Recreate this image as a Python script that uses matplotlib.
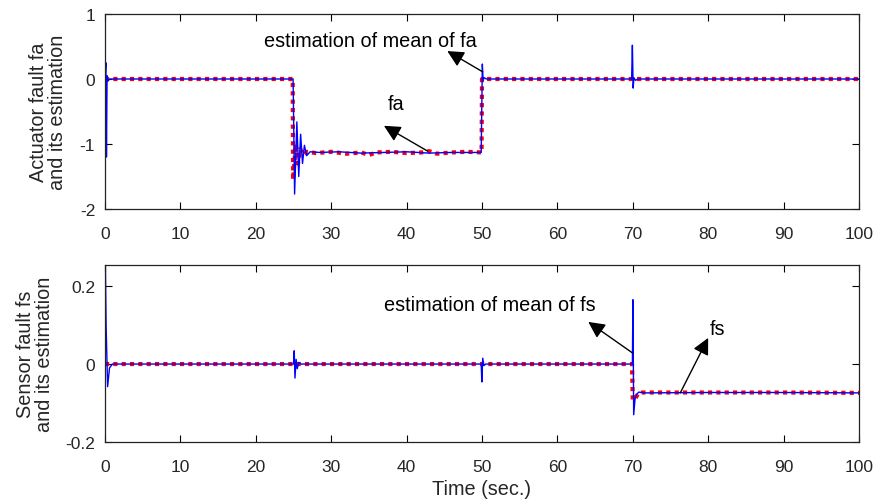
import numpy as np
import matplotlib
matplotlib.use("Agg")
import matplotlib.pyplot as plt

plt.rcParams['font.family'] = ['Liberation Sans', 'DejaVu Sans']
plt.rcParams['axes.unicode_minus'] = False

# --- actuator fault (top panel) ---
# blue: estimate with transients
fa_est_t = [0, 0.12, 0.2, 0.28, 0.4, 0.6, 24.95, 25.15, 25.45, 25.7, 25.95, 26.2, 26.45,
            26.75, 27.2, 28.5, 31, 34, 37, 40, 43, 46, 49.9, 50.05, 50.15, 50.3,
            50.6, 69.85, 69.95, 70.05, 70.15, 70.35, 70.7, 100]
fa_est = [0, 0.25, -1.2, 0.05, -0.03, 0, 0, -1.77, -0.66, -1.5, -0.85, -1.3, -1.02,
          -1.18, -1.12, -1.13, -1.12, -1.14, -1.13, -1.12, -1.14, -1.13, -1.13, 0.23, -0.02, 0.02,
          0, 0, 0.52, -0.14, 0.02, -0.02, 0, 0]
# red: fault signal (dotted)
fa_t = [0, 24.9, 24.95, 25.3, 25.6, 25.9, 26.3, 26.8, 28, 30, 32, 34, 35, 36, 38, 40, 42,
        43, 44, 46, 48, 49.95, 50.0, 100]
fa = [0, 0, -1.55, -1.0, -1.3, -1.08, -1.17, -1.12, -1.14, -1.12, -1.15, -1.13, -1.17, -1.13,
      -1.12, -1.14, -1.13, -1.11, -1.15, -1.13, -1.12, -1.13, 0, 0]

# --- sensor fault (bottom panel) ---
fs_est_t = [0, 0.05, 0.15, 0.35, 0.6, 1.0, 25.0, 25.1, 25.2, 25.35, 25.5, 25.7, 26.0,
            49.9, 49.98, 50.1, 50.25, 50.5, 69.95, 70.02, 70.12, 70.3, 70.5, 70.8, 71.5, 80, 90, 100]
fs_est = [0, 0.26, 0.1, -0.058, -0.01, 0, 0, 0.034, -0.036, 0.012, -0.012, 0.004, 0,
          0, -0.046, 0.015, -0.004, 0, 0, 0.165, -0.13, -0.09, -0.078, -0.072, -0.074, -0.073, -0.073, -0.074]
fs_t = [0, 69.9, 70.0, 70.3, 70.7, 71.2, 80, 90, 100]
fs = [0, 0, -0.092, -0.09, -0.076, -0.073, -0.073, -0.073, -0.074]

x_ticks = [0, 10, 20, 30, 40, 50, 60, 70, 80, 90, 100]
top_yticks = [-2, -1, 0, 1]
bot_yticks = [-0.2, 0, 0.2]
bot_yticklabels = ['-0.2', '0', '0.2']

fig = plt.figure(figsize=(8.74, 5.02), dpi=100)
ax1 = fig.add_axes([0.1201, 0.5817, 0.8627, 0.3884])
ax2 = fig.add_axes([0.1201, 0.1175, 0.8627, 0.3526])

txt_col = '#262626'
fs_tick = 12.5
fs_lab = 14.3

for ax in (ax1, ax2):
    ax.set_xlim(0, 100)
    ax.set_xticks(x_ticks)
    ax.tick_params(direction='in', top=True, right=True, length=5, width=0.8,
                   labelsize=fs_tick, labelcolor=txt_col)
    ax.tick_params(axis='x', pad=12)
    ax.tick_params(axis='y', pad=7)
    for sp in ax.spines.values():
        sp.set_linewidth(0.9)
        sp.set_color('#222222')

dot = dict(color='#ff0000', linewidth=3.0, linestyle=(0, (1, 1)))
ax1.plot(fa_t, fa, **dot)
ax1.plot(fa_est_t, fa_est, color='#0000ff', linewidth=1.0)
ax1.set_ylim(-2, 1)
ax1.set_yticks(top_yticks)
ax1.set_ylabel('Actuator fault fa\nand its estimation', fontsize=fs_lab, color=txt_col,
               linespacing=1.0)
ax1.yaxis.set_label_coords(-0.050, 0.5)

ax2.plot(fs_t, fs, **dot)
ax2.plot(fs_est_t, fs_est, color='#0000ff', linewidth=1.0)
ax2.set_ylim(-0.2, 0.254)
ax2.set_yticks(bot_yticks)
ax2.set_yticklabels(bot_yticklabels)
ax2.set_ylabel('Sensor fault fs\nand its estimation', fontsize=fs_lab, color=txt_col,
               linespacing=1.0)
ax2.yaxis.set_label_coords(-0.068, 0.5)
ax2.set_xlabel('Time (sec.)', fontsize=fs_lab, color=txt_col, labelpad=4)

arr = dict(arrowstyle='-|>,head_length=1.0,head_width=0.5', color='black', lw=1.0,
           shrinkA=0, shrinkB=0)

ax1.annotate('', xy=(45.4, 0.43), xytext=(50.1, 0.11), arrowprops=arr)
ax1.text(35.2, 0.6, 'estimation of mean of fa', fontsize=fs_lab, ha='center', va='center')
ax1.annotate('', xy=(37.0, -0.72), xytext=(42.8, -1.11), arrowprops=arr)
ax1.text(38.6, -0.38, 'fa', fontsize=fs_lab, ha='center', va='center')

ax2.annotate('', xy=(64.1, 0.108), xytext=(70.0, 0.028), arrowprops=arr)
ax2.text(51.0, 0.153, 'estimation of mean of fs', fontsize=fs_lab, ha='center', va='center')
ax2.annotate('', xy=(80.0, 0.067), xytext=(76.3, -0.074), arrowprops=arr)
ax2.text(81.3, 0.09, 'fs', fontsize=fs_lab, ha='center', va='center')

fig.savefig('out.png', dpi=100)
